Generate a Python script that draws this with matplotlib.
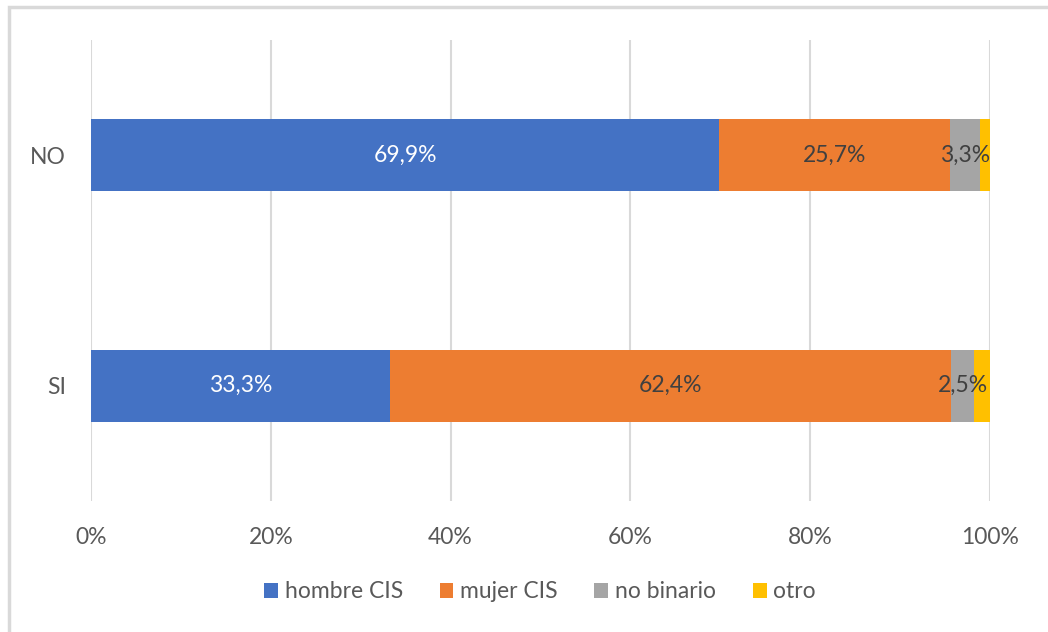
import matplotlib.pyplot as plt
import numpy as np
from matplotlib.patches import Rectangle

plt.rcParams['font.family'] = ['Lato', 'DejaVu Sans']

categorias = ['SI', 'NO']
series = ['hombre CIS', 'mujer CIS', 'no binario', 'otro']
hombre = [33.3, 69.9]
mujer = [62.4, 25.7]
no_binario = [2.5, 3.3]
otro = [1.8, 1.1]
colores = ['#4472C4', '#ED7D31', '#A5A5A5', '#FFC000']
color_etiqueta = ['white', '#404040', '#404040', None]
fs = 16.5

fig = plt.figure(figsize=(10.48, 6.32), dpi=100)
ax = fig.add_axes([91 / 1048, 1 - 501 / 632, 899 / 1048, 461 / 632])

# borde del grafico (solo se ve arriba y a la izquierda)
fig.patches.append(Rectangle((9 / 1048, -0.1), 1.2, 1 - 7 / 632 + 0.1,
                             transform=fig.transFigure, fill=False,
                             edgecolor='#D9D9D9', linewidth=2.5))

y = np.arange(len(categorias))
left = np.zeros(len(categorias))
for vals, nombre, col, tcol in zip([hombre, mujer, no_binario, otro], series,
                                   colores, color_etiqueta):
    vals = np.array(vals)
    ax.barh(y, vals, left=left, height=0.313, color=col, label=nombre, zorder=3)
    if tcol is not None:
        for yi, l, v in zip(y, left, vals):
            ax.text(l + v / 2, yi, f'{v:.1f}%'.replace('.', ','),
                    ha='center', va='center', color=tcol, fontsize=fs, zorder=4)
    left += vals

ax.set_xlim(0, 100)
ax.set_ylim(-0.5, 1.5)
ax.set_xticks(np.arange(0, 101, 20))
ax.set_xticklabels([f'{t}%' for t in range(0, 101, 20)])
ax.set_yticks(y)
ax.set_yticklabels(categorias)
ax.tick_params(axis='both', length=0, labelsize=fs, labelcolor='#595959')
ax.tick_params(axis='x', pad=19)
ax.tick_params(axis='y', pad=18)
ax.grid(axis='x', color='#D9D9D9', linewidth=1.5, zorder=0)
for s in ax.spines.values():
    s.set_visible(False)

fig.legend(loc='center', bbox_to_anchor=(540 / 1048, 1 - 592 / 632), ncol=4,
           frameon=False, fontsize=fs, labelcolor='#595959', handlelength=0.6,
           handleheight=0.6, handletextpad=0.3, columnspacing=1.6)

fig.savefig('out.png', dpi=100)
